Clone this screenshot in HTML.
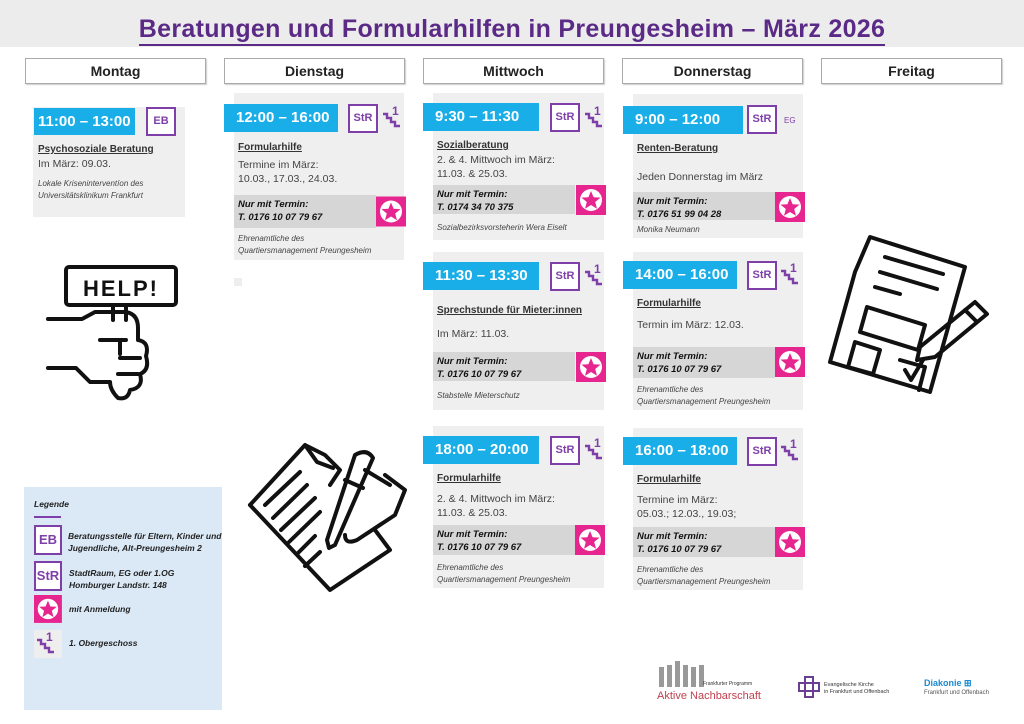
<!DOCTYPE html>
<html><head><meta charset="utf-8">
<style>
*{margin:0;padding:0;box-sizing:border-box}
body{width:1024px;height:724px;background:#fff;position:relative;overflow:hidden;font-family:"Liberation Sans",sans-serif;color:#222}
.a{position:absolute}
.top{left:0;top:0;width:1024px;height:47px;background:#ececec}
.title{left:0;top:15px;width:1024px;text-align:center;font-size:25px;font-weight:bold;color:#5b2a86;letter-spacing:0.3px}
.title span{border-bottom:2px solid #5b2a86;padding-bottom:1px}
.day{height:26px;border:1px solid #aaa;box-shadow:1px 1px 1px #ccc;font-size:14px;font-weight:bold;text-align:center;line-height:24px;top:58px;width:181px;background:#fff}
.card{background:#efefef}
.time{background:#1aaee8;color:#fff;font-weight:bold;font-size:15px;line-height:28px;padding-left:12px;height:28px}
.box{width:30px;height:29px;border:2px solid #7e3fa8;background:#fff;color:#7e3fa8;font-weight:bold;font-size:11px;text-align:center;line-height:25px}
.h{font-weight:bold;font-size:10px;text-decoration:underline;color:#333}
.t{font-size:10.5px;color:#444;line-height:14px}
.band{background:#d6d6d6;font-weight:bold;font-style:italic;font-size:9.5px;line-height:13px;padding:3px 4px;color:#111}
.s{font-style:italic;font-size:8px;color:#444;line-height:12px}
.leg{font-style:italic;font-weight:bold;font-size:8.5px;color:#222;line-height:12px}
</style></head><body>
<div class="a top"></div>
<div class="a title"><span>Beratungen und Formularhilfen in Preungesheim – März 2026</span></div>
<div class="a day" style="left:25px">Montag</div>
<div class="a day" style="left:224px">Dienstag</div>
<div class="a day" style="left:423px">Mittwoch</div>
<div class="a day" style="left:622px">Donnerstag</div>
<div class="a day" style="left:821px">Freitag</div>

<svg width="0" height="0" style="position:absolute"><defs>
<g id="star"><rect width="30" height="30" fill="#e6258f"/><circle cx="15" cy="15" r="11" fill="#fff"/><polygon points="15,6 17.6,12.3 24.5,12.6 19.2,17 21,23.8 15,20 9,23.8 10.8,17 5.5,12.6 12.4,12.3" fill="#e6258f"/></g>
<g id="st"><path d="M1 9 H5 V13 H9 V17 H13 V21 H18" fill="none" stroke="#7e3fa8" stroke-width="2.4"/><text x="10" y="10" font-size="12" font-weight="bold" fill="#7e3fa8" font-family="Liberation Sans">1</text></g>
</defs></svg>

<!-- Monday -->
<div class="a card" style="left:33px;top:107px;width:152px;height:110px"></div>
<div class="a time" style="left:34px;top:108px;width:101px;height:27px;line-height:27px;padding-left:4px">11:00 – 13:00</div>
<div class="a box" style="left:146px;top:107px">EB</div>
<div class="a h" style="left:38px;top:144px">Psychosoziale Beratung</div>
<div class="a t" style="left:38px;top:157px">Im März: 09.03.</div>
<div class="a s" style="left:38px;top:178px">Lokale Kriseninterventíon des<br>Universitätsklinikum Frankfurt</div>

<!-- Tuesday -->
<div class="a card" style="left:234px;top:93px;width:170px;height:167px"></div>
<div class="a time" style="left:224px;top:104px;width:114px">12:00 – 16:00</div>
<div class="a box" style="left:348px;top:104px">StR</div>
<svg class="a" style="left:382px;top:105px" width="24" height="26"><use href="#st"/></svg>
<div class="a h" style="left:238px;top:142px">Formularhilfe</div>
<div class="a t" style="left:238px;top:158px">Termine im März:<br>10.03., 17.03., 24.03.</div>
<div class="a band" style="left:234px;top:195px;width:142px;height:33px">Nur mit Termin:<br>T. 0176 10 07 79 67</div>
<svg class="a" style="left:376px;top:195px" width="30" height="33"><use href="#star" transform="translate(0,1.5)"/></svg>
<div class="a s" style="left:238px;top:233px">Ehrenamtliche des<br>Quartiersmanagement Preungesheim</div>
<div class="a" style="left:234px;top:278px;width:8px;height:8px;background:#eee"></div>

<!-- Wednesday 1 -->
<div class="a card" style="left:433px;top:93px;width:171px;height:147px"></div>
<div class="a time" style="left:423px;top:103px;width:116px">9:30 – 11:30</div>
<div class="a box" style="left:550px;top:103px">StR</div>
<svg class="a" style="left:584px;top:105px" width="24" height="26"><use href="#st"/></svg>
<div class="a h" style="left:437px;top:140px">Sozialberatung</div>
<div class="a t" style="left:437px;top:153px">2. &amp; 4. Mittwoch im März:<br>11.03. &amp; 25.03.</div>
<div class="a band" style="left:433px;top:185px;width:142px;height:29px">Nur mit Termin:<br>T. 0174 34 70 375</div>
<svg class="a" style="left:576px;top:185px" width="30" height="30"><use href="#star"/></svg>
<div class="a s" style="left:437px;top:222px">Sozialbezirksvorsteherin Wera Eiselt</div>

<!-- Wednesday 2 -->
<div class="a card" style="left:433px;top:252px;width:171px;height:158px"></div>
<div class="a time" style="left:423px;top:262px;width:116px">11:30 – 13:30</div>
<div class="a box" style="left:550px;top:262px">StR</div>
<svg class="a" style="left:584px;top:263px" width="24" height="26"><use href="#st"/></svg>
<div class="a h" style="left:437px;top:305px">Sprechstunde für Mieter:innen</div>
<div class="a t" style="left:437px;top:327px">Im März: 11.03.</div>
<div class="a band" style="left:433px;top:352px;width:142px;height:29px">Nur mit Termin:<br>T. 0176 10 07 79 67</div>
<svg class="a" style="left:576px;top:352px" width="30" height="30"><use href="#star"/></svg>
<div class="a s" style="left:437px;top:390px">Stabstelle Mieterschutz</div>

<!-- Wednesday 3 -->
<div class="a card" style="left:433px;top:426px;width:171px;height:162px"></div>
<div class="a time" style="left:423px;top:436px;width:116px">18:00 – 20:00</div>
<div class="a box" style="left:550px;top:436px">StR</div>
<svg class="a" style="left:584px;top:437px" width="24" height="26"><use href="#st"/></svg>
<div class="a h" style="left:437px;top:473px">Formularhilfe</div>
<div class="a t" style="left:437px;top:492px">2. &amp; 4. Mittwoch im März:<br>11.03. &amp; 25.03.</div>
<div class="a band" style="left:433px;top:525px;width:142px;height:30px">Nur mit Termin:<br>T. 0176 10 07 79 67</div>
<svg class="a" style="left:575px;top:525px" width="30" height="30"><use href="#star"/></svg>
<div class="a s" style="left:437px;top:562px">Ehrenamtliche des<br>Quartiersmanagement Preungesheim</div>

<!-- Thursday 1 -->
<div class="a card" style="left:633px;top:94px;width:170px;height:144px"></div>
<div class="a time" style="left:623px;top:106px;width:120px">9:00 – 12:00</div>
<div class="a box" style="left:747px;top:105px">StR</div>
<div class="a" style="left:784px;top:116px;font-size:8px;color:#7e3fa8">EG</div>
<div class="a h" style="left:637px;top:143px">Renten-Beratung</div>
<div class="a t" style="left:637px;top:170px">Jeden Donnerstag im März</div>
<div class="a band" style="left:633px;top:192px;width:142px;height:28px">Nur mit Termin:<br>T. 0176 51 99 04 28</div>
<svg class="a" style="left:775px;top:192px" width="30" height="30"><use href="#star"/></svg>
<div class="a s" style="left:637px;top:224px">Monika Neumann</div>

<!-- Thursday 2 -->
<div class="a card" style="left:633px;top:252px;width:170px;height:158px"></div>
<div class="a time" style="left:623px;top:261px;width:114px">14:00 – 16:00</div>
<div class="a box" style="left:747px;top:261px">StR</div>
<svg class="a" style="left:780px;top:262px" width="24" height="26"><use href="#st"/></svg>
<div class="a h" style="left:637px;top:298px">Formularhilfe</div>
<div class="a t" style="left:637px;top:318px">Termin im März: 12.03.</div>
<div class="a band" style="left:633px;top:347px;width:142px;height:31px">Nur mit Termin:<br>T. 0176 10 07 79 67</div>
<svg class="a" style="left:775px;top:347px" width="30" height="31"><use href="#star"/></svg>
<div class="a s" style="left:637px;top:384px">Ehrenamtliche des<br>Quartiersmanagement Preungesheim</div>

<!-- Thursday 3 -->
<div class="a card" style="left:633px;top:428px;width:170px;height:162px"></div>
<div class="a time" style="left:623px;top:437px;width:114px">16:00 – 18:00</div>
<div class="a box" style="left:747px;top:437px">StR</div>
<svg class="a" style="left:780px;top:438px" width="24" height="26"><use href="#st"/></svg>
<div class="a h" style="left:637px;top:474px">Formularhilfe</div>
<div class="a t" style="left:637px;top:493px">Termine im März:<br>05.03.; 12.03., 19.03;</div>
<div class="a band" style="left:633px;top:527px;width:142px;height:30px">Nur mit Termin:<br>T. 0176 10 07 79 67</div>
<svg class="a" style="left:775px;top:527px" width="30" height="30"><use href="#star"/></svg>
<div class="a s" style="left:637px;top:564px">Ehrenamtliche des<br>Quartiersmanagement Preungesheim</div>

<!-- HELP icon -->
<svg class="a" style="left:40px;top:260px" width="145" height="145" fill="none" stroke="#111" stroke-width="4" stroke-linecap="round" stroke-linejoin="round">
<rect x="26" y="7" width="110" height="38" rx="3"/>
<text x="81" y="36" text-anchor="middle" font-size="22" font-weight="bold" fill="#111" stroke="none" font-family="Liberation Sans" letter-spacing="2">HELP!</text>
<path d="M73 45 V60 M86 45 V60"/>
<path d="M8 59 H42 L55 52 H86 Q98 54 98 68 V80 Q110 82 106 96 Q110 110 100 114 Q104 128 90 130 Q88 140 78 138 Q70 130 70 122 H50 Q42 114 36 108 H8"/>
<path d="M60 80 H86 M80 80 V94 M80 98 H100 M78 114 H98"/>
</svg>

<!-- Writing hand icon -->
<svg class="a" style="left:245px;top:440px" width="170" height="160" fill="none" stroke="#111" stroke-width="4" stroke-linecap="round" stroke-linejoin="round">
<path d="M5 65 L60 5 L80 15 L95 30 L85 45 M60 5 L72 22 L88 28"/>
<path d="M5 65 L85 150 L145 110 L130 90"/>
<path d="M20 65 L55 32 M28 78 L62 45 M36 90 L70 58 M44 102 L75 72 M52 114 L70 96 M60 126 L75 112"/>
<path d="M110 15 Q122 8 128 18 L90 105 L84 108 L82 100 Z M100 40 L118 48"/>
<path d="M120 30 L145 45 M140 35 L160 50 L150 75 L112 100 Q100 105 100 95"/>
</svg>

<!-- Form icon -->
<svg class="a" style="left:825px;top:232px" width="170" height="170" fill="none" stroke="#111" stroke-width="4" stroke-linecap="round" stroke-linejoin="round">
<path d="M45 5 L140 35 L105 160 L5 130 L30 40 Z"/>
<path d="M60 25 L118 42 M55 40 L112 57 M50 55 L75 62"/>
<path d="M42 75 L100 93 L93 118 L35 100 Z"/>
<path d="M30 110 L55 118 L48 142 L23 135 Z M75 128 L100 135 L94 158"/>
<path d="M80 138 L86 148 L98 128"/>
<path d="M95 115 L150 70 L162 82 L110 125 L92 128 Z M140 78 L152 90"/>
</svg>

<!-- Legend -->
<div class="a" style="left:24px;top:487px;width:198px;height:223px;background:#dbe9f7"></div>
<div class="a leg" style="left:34px;top:498px">Legende</div>
<div class="a" style="left:34px;top:516px;width:27px;height:2px;background:#7e3fa8"></div>
<div class="a box" style="left:34px;top:525px;width:28px;height:30px;font-size:13px;line-height:26px">EB</div>
<div class="a leg" style="left:68px;top:530px">Beratungsstelle für Eltern, Kinder und<br>Jugendliche, Alt-Preungesheim 2</div>
<div class="a box" style="left:34px;top:561px;width:28px;height:30px;font-size:13px;line-height:26px">StR</div>
<div class="a leg" style="left:69px;top:567px">StadtRaum, EG oder 1.OG<br>Homburger Landstr. 148</div>
<svg class="a" style="left:34px;top:595px" width="28" height="28"><g transform="scale(0.93)"><use href="#star"/></g></svg>
<div class="a leg" style="left:69px;top:603px">mit Anmeldung</div>
<div class="a" style="left:34px;top:630px;width:28px;height:28px;background:#eee"></div>
<svg class="a" style="left:36px;top:631px" width="24" height="26"><use href="#st"/></svg>
<div class="a leg" style="left:69px;top:637px">1. Obergeschoss</div>

<!-- Logos -->
<svg class="a" style="left:655px;top:657px" width="50" height="32">
<g fill="#999"><rect x="4" y="10" width="5" height="20"/><rect x="12" y="8" width="5" height="22"/><rect x="20" y="4" width="5" height="26"/><rect x="28" y="8" width="5" height="22"/><rect x="36" y="10" width="5" height="20"/><rect x="44" y="8" width="5" height="22"/></g></svg>
<div class="a" style="left:703px;top:681px;font-size:5px;color:#333">Frankfurter Programm</div>
<div class="a" style="left:657px;top:690px;font-size:11px;color:#c0414f">Aktive Nachbarschaft</div>
<svg class="a" style="left:797px;top:675px" width="24" height="24" fill="none" stroke="#6a3f93" stroke-width="2"><path d="M8 2 H16 V8 H22 V16 H16 V22 H8 V16 H2 V8 H8 Z"/><rect x="8" y="8" width="8" height="8"/></svg>
<div class="a" style="left:824px;top:682px;font-size:5.5px;line-height:7px;color:#333">Evangelische Kirche<br>in Frankfurt und Offenbach</div>
<div class="a" style="left:924px;top:678px;font-size:9px;font-weight:bold;color:#1a8ad0">Diakonie ⊞</div>
<div class="a" style="left:924px;top:690px;font-size:6px;color:#555">Frankfurt und Offenbach</div>
</body></html>
